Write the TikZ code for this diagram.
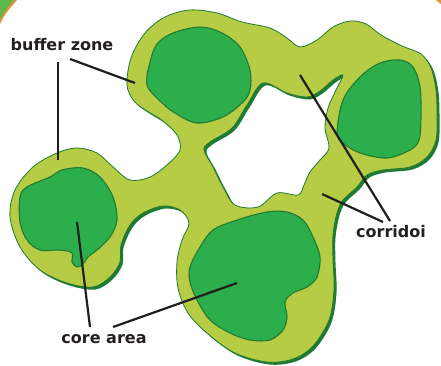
\documentclass[tikz,border=0pt]{standalone}
\usepackage{fontspec}
\setmainfont{DejaVu Sans}
\usepackage{xcolor}
\usepackage{tikz}
\usetikzlibrary{positioning}
\definecolor{buffer}{HTML}{B6CC45}
\definecolor{core}{HTML}{2DAE4C}
\definecolor{rim}{HTML}{1F7A33}
\definecolor{ink}{HTML}{231F20}
\definecolor{rust}{HTML}{E8923C}
\definecolor{leaf}{HTML}{5DB849}

\newcommand{\zoneshape}{%
  plot[smooth cycle, tension=0.55] coordinates {
    (127,85) (131,58) (145,33) (165,17) (190,10) (217,13) (242,22) (270,28)
    (287,38) (300,47) (317,40) (333,27) (350,21) (366,24) (381,35) (402,46)
    (421,54) (431,68) (436,90) (437,115) (436,140) (427,157) (410,167)
    (383,170) (367,175) (357,187) (343,200) (337,213) (333,235) (333,260)
    (334,290) (329,320) (313,346) (293,359) (267,362) (235,353) (208,334)
    (188,313) (178,288) (177,262) (182,240) (189,223) (180,210) (163,206)
    (143,213) (130,225) (121,245) (120,262) (110,277) (93,287) (67,283)
    (40,270) (20,247) (10,217) (15,190) (33,167) (57,153) (77,148) (97,153)
    (113,167) (130,180) (150,177) (168,164) (180,150) (177,135) (163,121)
    (147,111) (134,101)}
  plot[smooth cycle, tension=0.55] coordinates {
    (263,83) (287,93) (307,97) (320,91) (333,80) (343,75) (336,90) (328,108)
    (325,128) (329,148) (320,160) (310,172) (304,185) (298,195) (277,193)
    (258,207) (235,205) (223,187) (213,167) (204,150) (210,142) (232,128)
    (247,105)}}

\begin{document}
\begin{tikzpicture}[x=1pt, y=-1pt,
  zone/.style={fill=buffer, draw=rim, line width=0.8pt, even odd rule},
  zoneshadow/.style={fill=rim, even odd rule},
  corearea/.style={fill=core, draw=rim, line width=1.1pt},
  label/.style={font=\fontsize{16}{18}\selectfont\bfseries, text=ink, inner sep=0pt},
  leader/.style={draw=ink, line width=2.2pt}
]

  % frame
  \fill[white] (0,0) rectangle (441,365);
  \useasboundingbox (0,0) rectangle (441,365);

  % corner pieces
  \fill[rust] (0,0) -- (0,24) .. controls (5,14) .. (17,0) -- cycle;
  \fill[leaf] (0,0) -- (0,20) .. controls (4,12) .. (14,0) -- cycle;
  \fill[rust] (436,0) -- (441,0) -- (441,4) .. controls (439,2) .. cycle;

  % buffer zone with its shadow
  \fill[zoneshadow, shift={(2.5,2.5)}] \zoneshape;
  \path[zone] \zoneshape;

  % core areas
  \draw[corearea] plot[smooth cycle, tension=0.55] coordinates {
    (147,85) (150,62) (157,44) (173,33) (200,27) (222,33) (240,47) (250,70)
    (250,90) (243,102) (223,117) (197,123) (175,113) (160,101)};
  \draw[corearea] plot[smooth cycle, tension=0.55] coordinates {
    (337,133) (343,100) (360,77) (380,63) (400,60) (413,67) (420,87)
    (421,117) (419,140) (410,150) (387,158) (360,153) (343,143)};
  \draw[corearea] plot[smooth cycle, tension=0.55] coordinates {
    (190,267) (200,247) (213,230) (237,220) (267,212) (287,212) (303,220)
    (313,237) (320,257) (317,277) (307,287) (293,293) (285,302) (287,317)
    (283,330) (270,340) (250,340) (230,333) (210,320) (197,300) (190,282)};
  \draw[corearea] plot[smooth cycle, tension=0.55] coordinates {
    (20,197) (27,187) (50,177) (62,170) (83,168) (100,177) (113,197)
    (117,220) (110,237) (97,250) (88,257) (83,264) (77,267) (72,262)
    (72,253) (60,250) (40,250) (27,240) (20,222)};

  % labels
  \node[label] (bufferlbl) at (62,45) {buffer zone};
  \node[label] (corelbl) at (104,339) {core area};
  \node[label] (corrlbl) at (391,232) {corridoi};

  % leader ends
  \coordinate (bzA) at (58,62);    \coordinate (bzAend) at (58,160);
  \coordinate (bzB) at (70,59);    \coordinate (bzBend) at (135,83);
  \coordinate (caA) at (90,327);   \coordinate (caAend) at (77,222);
  \coordinate (caB) at (113,327);  \coordinate (caBend) at (237,283);
  \coordinate (crA) at (390,221);  \coordinate (crAend) at (300,75);
  \coordinate (crB) at (383,222);  \coordinate (crBend) at (322,194);

  \draw[leader] (bzA) -- (bzAend);
  \draw[leader] (bzB) -- (bzBend);
  \draw[leader] (caA) -- (caAend);
  \draw[leader] (caB) -- (caBend);
  \draw[leader] (crA) -- (crAend);
  \draw[leader] (crB) -- (crBend);

\end{tikzpicture}
\end{document}
